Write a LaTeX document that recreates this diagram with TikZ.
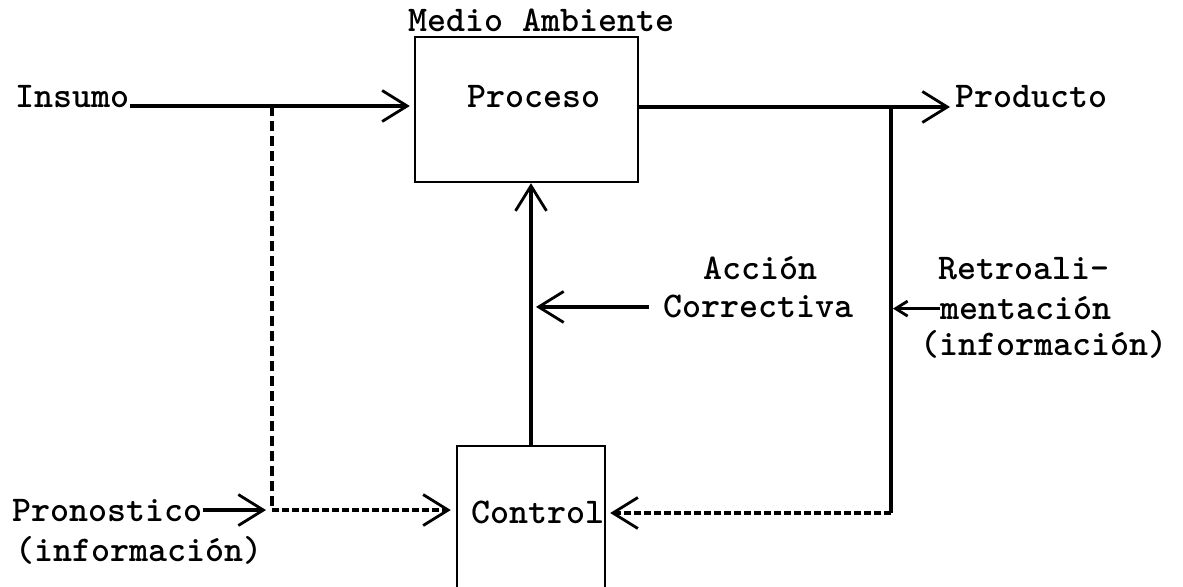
\documentclass[tikz,border=0pt]{standalone}
\usepackage{fontspec}
\usetikzlibrary{arrows.meta}

\begin{document}
\begin{tikzpicture}[x=0.02cm,y=-0.02cm,
  txt/.style={font=\ttfamily\bfseries\fontsize{20.6}{24}\selectfont,inner sep=0pt},
  caja/.style={draw,line width=1.4pt,inner sep=0pt},
  linea/.style={line width=1.8pt},
  flecha/.style={line width=1.8pt,-{Straight Barb[length=0.5cm,width=0.62cm,line width=1.6pt]}},
  flechita/.style={line width=1.8pt,-{Straight Barb[length=0.24cm,width=0.3cm,line width=1.6pt]}},
  punteada/.style={line width=1.8pt,dash pattern=on 0.2cm off 0.1cm},
  punteadab/.style={line width=1.8pt,dash pattern=on 0.14cm off 0.06cm}]
\useasboundingbox (0,0) rectangle (1183,587);
\clip (0,0) rectangle (1183,587);
\node[caja,minimum width=4.46cm,minimum height=2.9cm] (proceso) at (526.5,109.5) {};
\node[caja,minimum width=2.96cm,minimum height=4cm,anchor=north] (control) at (531,445) {};
\node[txt,anchor=base west] (medio) at (408,32) {Medio Ambiente};
\node[txt,anchor=base west] (insumo) at (15,108) {Insumo};
\node[txt,anchor=base west] (procesotxt) at (467,108) {Proceso};
\node[txt,anchor=base west] (producto) at (955,108) {Producto};
\node[txt,anchor=base west] (acciona) at (703,280) {Acción};
\node[txt,anchor=base west] (accionb) at (663,318) {Correctiva};
\node[txt,anchor=base west] (retroa) at (938,280) {Retroali-};
\node[txt,anchor=base west] (retrob) at (940,320) {mentación};
\node[txt,anchor=base west] (retroc) at (920,356) {(información)};
\node[txt,anchor=base west] (pronostico) at (12,521) {Pronostico};
\node[txt,anchor=base west] (pronosticob) at (15,561) {(información)};
\node[txt,anchor=base west] (controltxt) at (471,523) {Control};
\coordinate (jsup) at (272,106);
\coordinate (rsup) at (891,107);
\coordinate (rinf) at (891,513);
\draw[flecha,shorten >=0.08cm] (insumo.east |- jsup) -- (proceso.west |- jsup);
\draw[punteada] (jsup) -- (jsup |- pronostico.east);
\draw[flecha,shorten >=0.12cm] (pronostico.east) -- (jsup |- pronostico.east);
\draw[punteadab,flecha,shorten >=0.1cm] (jsup |- pronostico.east) -- (control.west |- pronostico.east);
\draw[linea] (proceso.east |- rsup) -- (rsup);
\draw[flecha,shorten >=0.1cm] (rsup) -- (producto.west |- rsup);
\draw[linea] (rsup) -- (rinf);
\draw[punteadab,flecha,shorten >=0.08cm] (rinf) -- (control.east |- rinf);
\draw[flecha] (control.north) -- (proceso.south -| control.north);
\draw[flecha,shorten <=0.28cm,shorten >=0.1cm] (accionb.west) -- (accionb.west -| control.north);
\draw[flechita,shorten >=0.04cm] (retrob.west) -- (retrob.west -| rsup);
\end{tikzpicture}
\end{document}
